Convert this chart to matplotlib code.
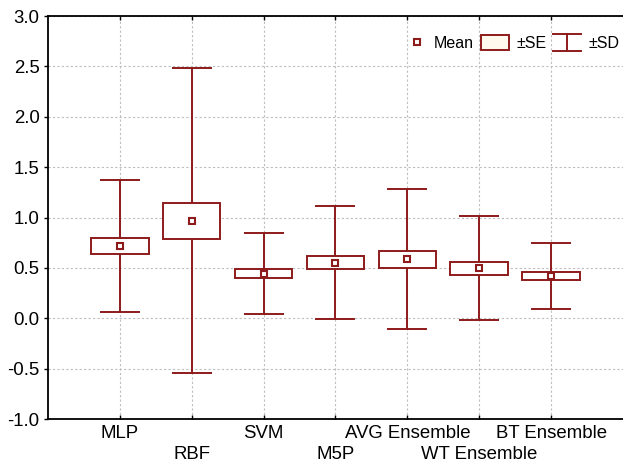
import matplotlib
matplotlib.use('Agg')
import matplotlib.pyplot as plt
from matplotlib.legend_handler import HandlerBase
from matplotlib.lines import Line2D
from matplotlib.patches import Rectangle

models = ['MLP', 'RBF', 'SVM', 'M5P', 'AVG Ensemble', 'WT Ensemble', 'BT Ensemble']
means = [0.718, 0.967, 0.445, 0.553, 0.587, 0.495, 0.420]
se = [0.078, 0.178, 0.047, 0.066, 0.083, 0.061, 0.036]
sd = [0.658, 1.513, 0.399, 0.564, 0.692, 0.516, 0.328]

red = '#8e1b1b'
plt.rcParams['font.family'] = ['Liberation Sans', 'DejaVu Sans']

fig = plt.figure(figsize=(6.23, 4.72), dpi=100)
ax = fig.add_axes([0.077, 0.112, 0.923, 0.854])

x = list(range(1, len(models) + 1))

# whiskers for +-SD
ax.errorbar(x, means, yerr=sd, fmt='none', ecolor=red, elinewidth=1.4,
            capsize=14.4, capthick=1.4, zorder=2)
# boxes for +-SE
ax.bar(x, [2 * s for s in se], bottom=[m - s for m, s in zip(means, se)],
       width=0.8, color='white', edgecolor=red, linewidth=1.4, zorder=3)
ax.plot(x, means, linestyle='none', marker='s', markersize=5,
        markerfacecolor='white', markeredgecolor=red, markeredgewidth=1.5,
        zorder=4)

ax.set_xlim(0, 8)
ax.set_ylim(-1, 3)
ax.set_yticks([-1 + 0.5 * i for i in range(9)])
ax.set_yticklabels(['%.1f' % (-1 + 0.5 * i) for i in range(9)])
ax.set_xticks(x)
ax.set_xticklabels(models)

ax.grid(True, color='#bdbdbd', linestyle=(0, (2, 2)), linewidth=0.8)
ax.set_axisbelow(True)
ax.tick_params(axis='both', labelsize=13.4, direction='in', length=3,
               width=1, top=True, colors='black')
ax.tick_params(axis='y', direction='out', pad=3)
# stagger every second category label onto a lower row
for i, t in enumerate(ax.xaxis.get_major_ticks()):
    t.set_pad(4 if i % 2 == 0 else 19)
ax.spines['right'].set_visible(False)
for s in ['left', 'top', 'bottom']:
    ax.spines[s].set_linewidth(1.3)


class SDHandler(HandlerBase):
    def create_artists(self, legend, orig_handle, xdescent, ydescent,
                       width, height, fontsize, trans):
        cx = width / 2 - xdescent
        y0 = -ydescent - 1
        y1 = height - ydescent + 1
        lines = [
            Line2D([-xdescent, width - xdescent], [y0, y0]),
            Line2D([-xdescent, width - xdescent], [y1, y1]),
            Line2D([cx, cx], [y0, y1]),
        ]
        for ln in lines:
            ln.set_color(red)
            ln.set_linewidth(1.4)
            ln.set_transform(trans)
        return lines


class MeanHandler(HandlerBase):
    def create_artists(self, legend, orig_handle, xdescent, ydescent,
                       width, height, fontsize, trans):
        mk = Line2D([width - xdescent - 7], [height / 2 - ydescent],
                    linestyle='none', marker='s', markersize=5,
                    markerfacecolor='white', markeredgecolor=red,
                    markeredgewidth=1.5)
        mk.set_transform(trans)
        return [mk]


mean_h = Line2D([], [])
se_h = Rectangle((0, 0), 1, 1, facecolor='#fff8ec', edgecolor=red, linewidth=1.4)
sd_h = Line2D([], [], color=red)

ax.legend([mean_h, se_h, sd_h], ['Mean', '\u00b1SE', '\u00b1SD'],
          handler_map={sd_h: SDHandler(), mean_h: MeanHandler()},
          loc='upper right', bbox_to_anchor=(1.008, 0.972), ncol=3,
          frameon=False, fontsize=11.5, handlelength=1.75, handleheight=1.0,
          handletextpad=0.45, columnspacing=0.45, borderaxespad=0.1)

fig.savefig('out.png', dpi=100)
